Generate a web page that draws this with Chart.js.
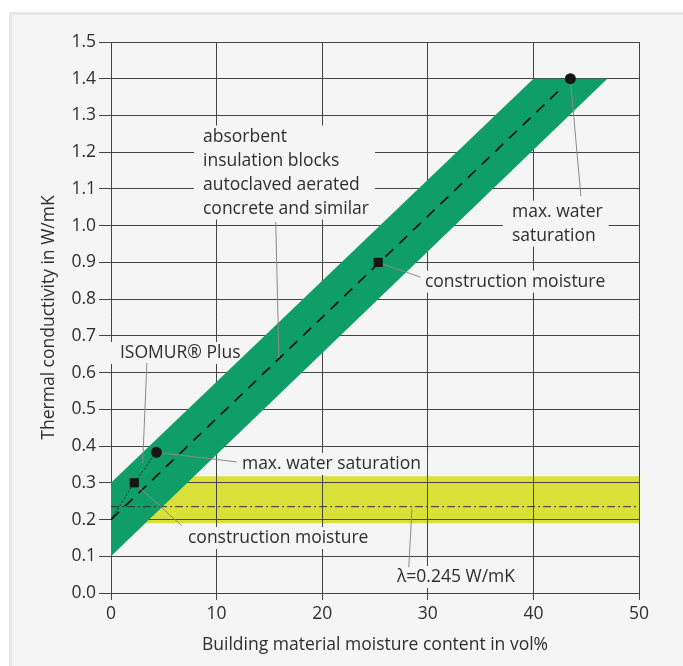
<!DOCTYPE html>
<html lang="en">
  <head>
    <meta charset="UTF-8" />
    <script src="https://cdn.jsdelivr.net/npm/chart.js@4.4.0/dist/chart.umd.min.js"></script>
    <title>Thermal conductivity</title>
    <style>
      body { margin: 0; background: #fff; }
      #panel {
        position: absolute; left: 9px; top: 12px; width: 700px; height: 700px;
        background: #f5f5f5; border: 3px solid #e6e6e6;
      }
      #wrap { position: absolute; left: 0; top: 0; width: 683px; height: 666px; }
    </style>
  </head>
  <body>
    <div id="panel"></div>
    <div id="wrap"><canvas id="chart" width="683" height="666"></canvas></div>
    <script>
      // tick values
      let xTicks = [0, 10, 20, 30, 40, 50];
      let yTicks = [0.0, 0.1, 0.2, 0.3, 0.4, 0.5, 0.6, 0.7, 0.8, 0.9, 1.0, 1.1, 1.2, 1.3, 1.4, 1.5];

      // green band (absorbent blocks): upper and lower edge
      let greenUpperX = [0, 40, 47];
      let greenUpperY = [0.30, 1.40, 1.40];
      let greenLowerX = [0, 47];
      let greenLowerY = [0.10, 1.40];

      // yellow band (ISOMUR Plus)
      let yellowX = [1.5, 50];
      let yellowUpperY = [0.318, 0.318];
      let yellowLowerY = [0.19, 0.19];

      // lines
      let centerX = [0, 42.5];
      let centerY = [0.20, 1.37];
      let lambdaX = [0, 50];
      let lambdaY = [0.235, 0.235];
      let isomurX = [0, 2.2, 4.3];
      let isomurY = [0.20, 0.30, 0.383];

      // markers
      let squareX = [2.2, 25.3];
      let squareY = [0.30, 0.90];
      let circleX = [4.3, 43.5];
      let circleY = [0.383, 1.40];

      // leader lines [x1, y1, x2, y2]
      let leaders = [
        [15.6, 1.01, 15.9, 0.64],
        [43.5, 1.40, 44.5, 1.08],
        [25.3, 0.90, 29.3, 0.86],
        [3.4, 0.626, 3.0, 0.354],
        [4.3, 0.383, 11.9, 0.357],
        [2.2, 0.30, 6.7, 0.183],
        [28.5, 0.229, 28.2, 0.07],
      ];

      // text labels: lines, left x, first baseline y (data units)
      let labelTexts = [
        ["absorbent", "insulation blocks", "autoclaved aerated", "concrete and similar"],
        ["max. water", "saturation"],
        ["construction moisture"],
        ["ISOMUR\u00ae Plus"],
        ["max. water saturation"],
        ["construction moisture"],
        ["\u03bb=0.245 W/mK"],
      ];
      let labelX = [8.71, 37.97, 29.73, 0.85, 12.4, 7.29, 27.08];
      let labelY = [1.229, 1.0245, 0.834, 0.640, 0.338, 0.136, 0.030];

      function pts(xs, ys) {
        return xs.map((x, i) => ({ x: x, y: ys[i] }));
      }

      const FONT = "'Open Sans', 'Noto Sans', sans-serif";
      const SIZE = 17.5;
      const TEXT = "#2e2e2e";
      const BG = "#f5f5f5";

      let datasets = [
        { data: pts(yellowX, yellowUpperY), fill: "+1", backgroundColor: "#d9e03a", borderWidth: 0, pointRadius: 0, order: 9 },
        { data: pts(yellowX, yellowLowerY), fill: false, borderWidth: 0, pointRadius: 0, order: 10 },
        { data: pts(greenUpperX, greenUpperY), fill: "+1", backgroundColor: "#109e68", borderWidth: 0, pointRadius: 0, order: 7 },
        { data: pts(greenLowerX, greenLowerY), fill: false, borderWidth: 0, pointRadius: 0, order: 8 },
        { data: pts(lambdaX, lambdaY), borderColor: "#333", borderWidth: 1, borderDash: [8, 3, 2, 3], pointRadius: 0, order: 5 },
        { data: pts(centerX, centerY), borderColor: "#111", borderWidth: 1.7, borderDash: [11, 8], pointRadius: 0, order: 5 },
        { data: pts(isomurX, isomurY), borderColor: "#222", borderWidth: 1, borderDash: [2, 2], pointRadius: 0, order: 5 },
      ];
      leaders.forEach((l) => {
        datasets.push({
          data: [{ x: l[0], y: l[1] }, { x: l[2], y: l[3] }],
          borderColor: "#8a8a8a", borderWidth: 1, pointRadius: 0, order: 4,
        });
      });
      datasets.push({ data: pts(squareX, squareY), showLine: false, pointStyle: "rect", pointRadius: 6.5, backgroundColor: "#151515", borderWidth: 0, order: 1 });
      datasets.push({ data: pts(circleX, circleY), showLine: false, pointStyle: "circle", pointRadius: 5.5, backgroundColor: "#151515", borderWidth: 0, order: 1 });

      // redraw grid over the yellow band, then the text labels with their boxes
      const overlay = {
        id: "overlay",
        afterDatasetDraw(chart, args) {
          if (args.index !== 0) return;
          let ctx = chart.ctx;
          chart.scales.x.drawGrid(chart.chartArea);
          chart.scales.y.drawGrid(chart.chartArea);
          ctx.save();
          ctx.font = SIZE + "px " + FONT;
          ctx.textBaseline = "alphabetic";
          labelTexts.forEach((lines, i) => {
            let px = chart.scales.x.getPixelForValue(labelX[i]);
            let py = chart.scales.y.getPixelForValue(labelY[i]);
            let lh = 24;
            let w = Math.max(...lines.map((t) => ctx.measureText(t).width));
            ctx.fillStyle = BG;
            ctx.fillRect(px - 9, py - 16, w + 15, (lines.length - 1) * lh + 22);
            ctx.fillStyle = TEXT;
            lines.forEach((t, j) => ctx.fillText(t, px, py + j * lh));
          });
          ctx.restore();
        },
      };

      let ctx = document.getElementById("chart").getContext("2d");
      let myChart = new Chart(ctx, {
        type: "scatter",
        data: { datasets: datasets },
        options: {
          responsive: false,
          animation: false,
          showLine: true,
          layout: { padding: { top: 42, right: 44, left: 0, bottom: 0 } },
          plugins: { legend: { display: false }, tooltip: { enabled: false } },
          elements: { line: { tension: 0 } },
          scales: {
            x: {
              type: "linear",
              min: 0,
              max: 50,
              afterBuildTicks: (s) => { s.ticks = xTicks.map((v) => ({ value: v })); },
              afterFit: (s) => { s.height = 73; },
              grid: { color: "#444", lineWidth: 1, tickLength: 7 },
              border: { display: false },
              ticks: { color: TEXT, font: { family: FONT, size: SIZE }, padding: 4, maxRotation: 0 },
              title: {
                display: true,
                text: "Building material moisture content in vol%",
                color: TEXT,
                font: { family: FONT, size: SIZE },
                padding: { top: 0, bottom: 10 },
              },
            },
            y: {
              type: "linear",
              min: 0,
              max: 1.5,
              afterBuildTicks: (s) => { s.ticks = yTicks.map((v) => ({ value: v })); },
              afterFit: (s) => { s.width = 111; },
              grid: { color: "#444", lineWidth: 1, tickLength: 12 },
              border: { display: false },
              ticks: {
                color: TEXT,
                font: { family: FONT, size: SIZE },
                padding: 3,
                callback: (v) => v.toFixed(1),
              },
              title: {
                display: true,
                text: "Thermal conductivity in W/mK",
                color: TEXT,
                font: { family: FONT, size: SIZE },
                padding: { top: 39, bottom: 0 },
              },
            },
          },
        },
        plugins: [overlay],
      });
    </script>
  </body>
</html>
